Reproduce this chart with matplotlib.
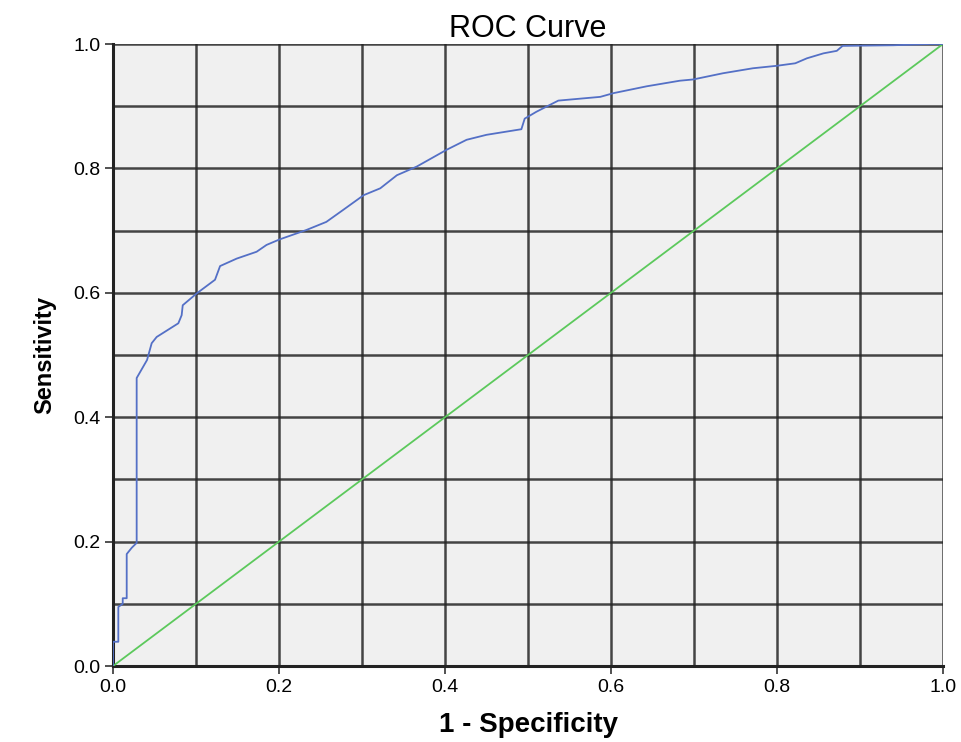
import matplotlib
matplotlib.use("Agg")
import matplotlib.pyplot as plt
import numpy as np

# ROC curve points (1 - specificity, sensitivity)
fpr = [0.0, 0.0, 0.0064, 0.0064, 0.0117, 0.0117, 0.0165, 0.0165, 0.0225, 0.0285,
       0.0285, 0.041, 0.0466, 0.0526, 0.0787, 0.0827, 0.084, 0.1008, 0.1229, 0.129,
       0.149, 0.173, 0.185, 0.201, 0.233, 0.257, 0.277, 0.302, 0.322, 0.342,
       0.366, 0.402, 0.426, 0.450, 0.492, 0.496, 0.510, 0.5365, 0.587, 0.603,
       0.643, 0.683, 0.699, 0.735, 0.771, 0.800, 0.822, 0.836, 0.856, 0.872,
       0.879, 0.940, 0.984, 1.0]
tpr = [0.0, 0.039, 0.039, 0.095, 0.100, 0.109, 0.109, 0.180, 0.190, 0.198,
       0.463, 0.492, 0.519, 0.529, 0.551, 0.564, 0.580, 0.599, 0.621, 0.643,
       0.655, 0.666, 0.677, 0.686, 0.701, 0.714, 0.733, 0.757, 0.768, 0.789,
       0.803, 0.830, 0.846, 0.854, 0.863, 0.880, 0.891, 0.909, 0.915, 0.921,
       0.932, 0.941, 0.943, 0.953, 0.961, 0.965, 0.969, 0.977, 0.985, 0.989,
       0.997, 0.998, 1.0, 1.0]
ref_line = [0.0, 1.0]
ticks = [0.0, 0.2, 0.4, 0.6, 0.8, 1.0]
tick_labels = ['0.0', '0.2', '0.4', '0.6', '0.8', '1.0']

font = ['Liberation Sans Narrow', 'Liberation Sans', 'DejaVu Sans']

fig = plt.figure(figsize=(9.61, 7.42), dpi=100)
ax = fig.add_axes([0.1176, 0.1024, 0.8637, 0.8383])
ax.set_facecolor('#f0f0f0')

# grid every 0.1
for v in np.arange(1, 11) / 10:
    ax.axvline(v, color='#262626', lw=1.8, alpha=0.85, zorder=1)
    ax.axhline(v, color='#262626', lw=1.8, alpha=0.85, zorder=1)

ax.plot(ref_line, ref_line, color='#5cc95c', lw=1.3, zorder=3)
ax.plot(fpr, tpr, color='#5470c6', lw=1.3, zorder=4)

ax.set_xlim(0, 1)
ax.set_ylim(0, 1)
ax.set_xticks(ticks)
ax.set_yticks(ticks)
ax.set_xticklabels(tick_labels, family=font, fontsize=14)
ax.set_yticklabels(tick_labels, family=font, fontsize=14)
ax.tick_params(length=6, width=1.2, color='#333333', pad=3)
for s in ['top', 'right']:
    ax.spines[s].set_visible(False)
for s in ['left', 'bottom']:
    ax.spines[s].set_linewidth(2.2)
    ax.spines[s].set_color('#222222')

ax.set_title('ROC Curve', family=font, fontsize=22, pad=5)
ax.set_xlabel('1 - Specificity', family=font, fontsize=20, fontweight='bold', labelpad=12)
ax.set_ylabel('Sensitivity', family=font, fontsize=17, fontweight='bold', labelpad=12)

fig.savefig('out.png', dpi=100)
